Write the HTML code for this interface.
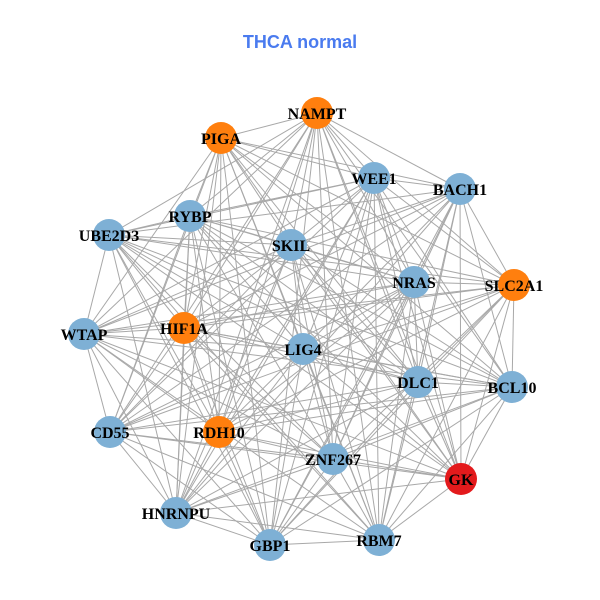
<!DOCTYPE html>
<html><head><meta charset="utf-8"><style>
html,body{margin:0;padding:0;background:#fff;}
svg{display:block;}
text{font-family:"Liberation Serif",serif;font-weight:bold;font-size:16px;fill:#000;}
.t{font-family:"Liberation Sans",sans-serif;font-size:18px;fill:#4a7bef;}
</style></head><body>
<svg id="s" width="600" height="600" viewBox="0 0 600 600">
<text class="t" x="300" y="48" text-anchor="middle">THCA normal</text>
<g id="e" stroke="#a8a8a8" stroke-width="1"></g>
<g id="n"></g>
<g id="l" text-anchor="middle">
<text x="317" y="119">NAMPT</text>
<text x="221" y="144">PIGA</text>
<text x="374" y="184">WEE1</text>
<text x="460" y="195">BACH1</text>
<text x="190" y="222">RYBP</text>
<text x="109" y="241">UBE2D3</text>
<text x="291" y="251">SKIL</text>
<text x="414" y="288">NRAS</text>
<text x="514" y="291">SLC2A1</text>
<text x="84" y="340">WTAP</text>
<text x="184" y="334">HIF1A</text>
<text x="303" y="355">LIG4</text>
<text x="418" y="388">DLC1</text>
<text x="512" y="393">BCL10</text>
<text x="110" y="438">CD55</text>
<text x="219" y="438">RDH10</text>
<text x="333" y="465">ZNF267</text>
<text x="461" y="485">GK</text>
<text x="176" y="519">HNRNPU</text>
<text x="270" y="551">GBP1</text>
<text x="379" y="546">RBM7</text>
</g>
</svg>
<script>
var B="#7eb0d5",O="#ff7f0e",R="#e31a1c";
var N=[[317,113,O],[221,138,O],[374,178,B],[460,189,B],[190,216,B],[109,235,B],[291,245,B],[414,282,B],[514,285,O],[84,334,B],[184,328,O],[303,349,B],[418,382,B],[512,387,B],[110,432,B],[219,432,O],[333,459,B],[461,479,R],[176,513,B],[270,545,B],[379,540,B]];
var ns="http://www.w3.org/2000/svg",e=document.getElementById("e"),n=document.getElementById("n");
for(var i=0;i<N.length;i++)for(var j=i+1;j<N.length;j++){
 if((i*7+j*3)%11==0)continue;
 var L=document.createElementNS(ns,"line");
 L.setAttribute("x1",N[i][0]);L.setAttribute("y1",N[i][1]);L.setAttribute("x2",N[j][0]);L.setAttribute("y2",N[j][1]);
 e.appendChild(L);}
N.forEach(function(p){var c=document.createElementNS(ns,"circle");c.setAttribute("cx",p[0]);c.setAttribute("cy",p[1]);c.setAttribute("r",16);c.setAttribute("fill",p[2]);n.appendChild(c);});
</script>
</body></html>
